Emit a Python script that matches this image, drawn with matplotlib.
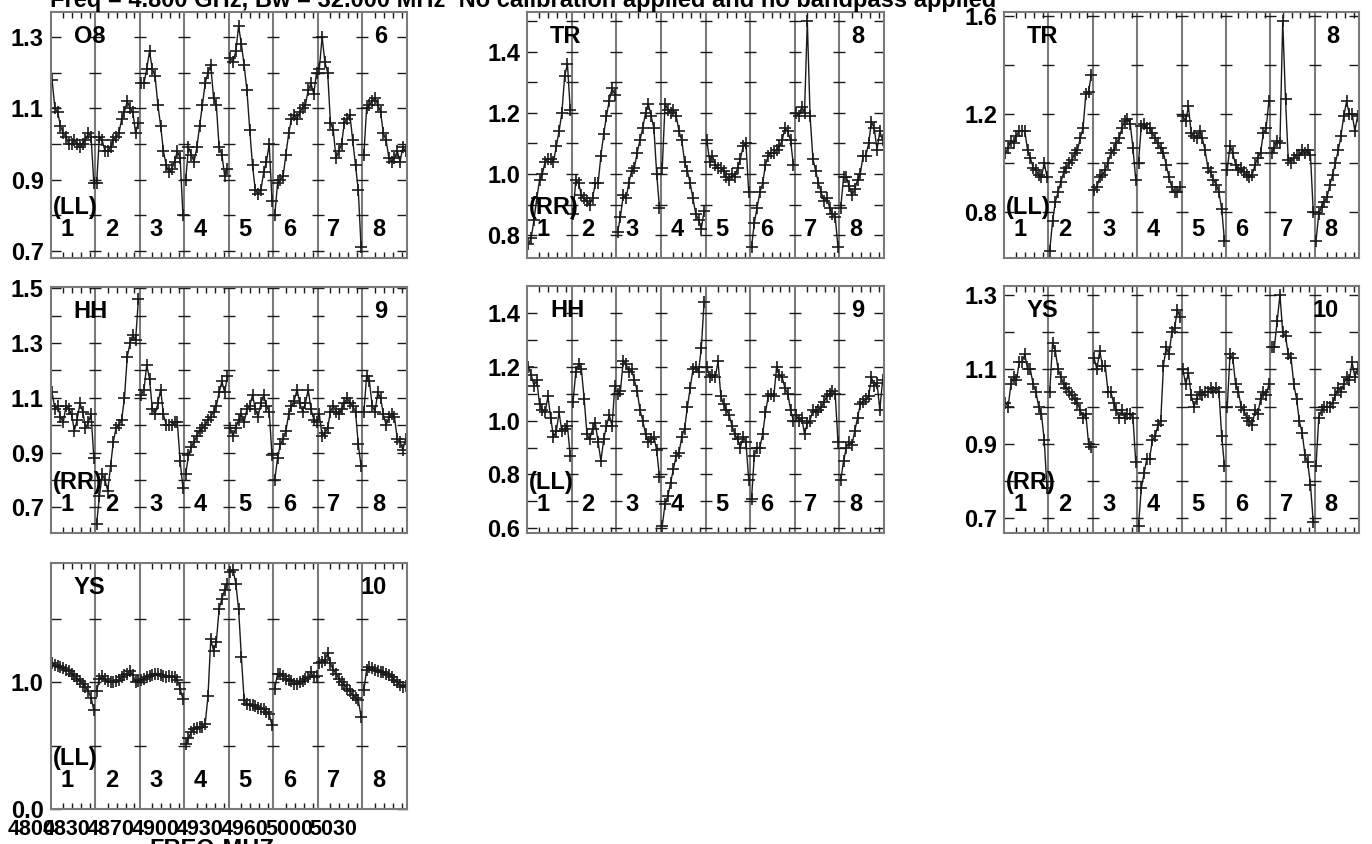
import matplotlib.pyplot as plt
from matplotlib.ticker import MultipleLocator, FixedLocator
import numpy as np

plt.rcParams['font.family'] = ['Liberation Sans', 'DejaVu Sans']
plt.rcParams['font.weight'] = 'bold'

W, H = 1372, 844

# amplitude per IF (8 IFs, 16 channels each)
o8_ll = [
    [1.18, 1.10, 1.09, 1.05, 1.03, 1.02, 1.00, 1.00, 1.01, 1.00, 0.99, 1.00, 1.01, 1.03, 1.02, 0.89],
    [0.89, 1.02, 1.01, 0.98, 0.98, 0.99, 1.01, 1.02, 1.03, 1.07, 1.09, 1.12, 1.10, 1.09, 1.03, 1.06],
    [1.17, 1.17, 1.21, 1.26, 1.21, 1.19, 1.11, 1.05, 0.98, 0.94, 0.92, 0.93, 0.95, 0.98, 0.96, 0.80],
    [0.90, 0.99, 0.97, 0.95, 0.99, 1.05, 1.11, 1.17, 1.20, 1.22, 1.13, 1.11, 0.99, 0.97, 0.91, 0.93],
    [1.24, 1.23, 1.26, 1.33, 1.28, 1.22, 1.15, 1.04, 0.94, 0.87, 0.86, 0.87, 0.92, 0.95, 1.00, 0.84],
    [0.80, 0.89, 0.90, 0.91, 0.97, 1.03, 1.07, 1.08, 1.07, 1.09, 1.10, 1.11, 1.15, 1.17, 1.14, 1.20],
    [1.21, 1.30, 1.23, 1.20, 1.06, 1.04, 0.96, 0.98, 1.00, 1.06, 1.07, 1.08, 1.01, 0.94, 0.87, 0.71],
    [0.97, 1.10, 1.11, 1.12, 1.13, 1.11, 1.09, 1.03, 1.01, 0.96, 0.95, 0.96, 0.98, 0.95, 0.99, 0.98],
]
tr_rr = [
    [0.77, 0.79, 0.85, 0.92, 0.98, 1.00, 1.04, 1.05, 1.05, 1.04, 1.09, 1.14, 1.20, 1.32, 1.36, 1.21],
    [0.87, 0.98, 0.97, 0.93, 0.92, 0.91, 0.90, 0.92, 0.97, 0.97, 1.06, 1.13, 1.19, 1.24, 1.28, 1.26],
    [0.81, 0.86, 0.93, 0.92, 0.97, 1.01, 1.02, 1.07, 1.11, 1.15, 1.20, 1.23, 1.19, 1.15, 1.00, 0.89],
    [1.02, 1.23, 1.21, 1.20, 1.21, 1.19, 1.14, 1.11, 1.04, 1.01, 0.97, 0.92, 0.87, 0.85, 0.82, 0.88],
    [1.11, 1.04, 1.06, 1.03, 1.02, 1.02, 1.01, 0.99, 0.98, 1.00, 0.99, 1.02, 1.05, 1.09, 1.10, 0.94],
    [0.76, 0.84, 0.89, 0.94, 0.97, 1.03, 1.06, 1.07, 1.07, 1.08, 1.09, 1.11, 1.15, 1.14, 1.11, 1.03],
    [1.20, 1.19, 1.22, 1.20, 1.50, 1.19, 1.05, 1.01, 0.97, 0.94, 0.91, 0.92, 0.89, 0.87, 0.86, 0.76],
    [0.89, 0.99, 0.99, 0.96, 0.93, 0.95, 0.98, 1.00, 1.06, 1.06, 1.10, 1.17, 1.15, 1.08, 1.14, 1.11],
]
tr_ll = [
    [1.04, 1.06, 1.09, 1.08, 1.11, 1.13, 1.13, 1.13, 1.05, 1.02, 0.98, 0.97, 0.95, 0.94, 1.00, 0.94],
    [0.64, 0.76, 0.84, 0.88, 0.92, 0.96, 0.98, 1.00, 1.01, 1.04, 1.05, 1.10, 1.14, 1.28, 1.29, 1.36],
    [0.89, 0.90, 0.94, 0.95, 0.97, 1.00, 1.04, 1.05, 1.08, 1.10, 1.14, 1.17, 1.18, 1.16, 1.06, 0.93],
    [1.00, 1.15, 1.16, 1.14, 1.14, 1.12, 1.10, 1.08, 1.06, 1.04, 0.99, 0.94, 0.90, 0.88, 0.88, 0.90],
    [1.19, 1.17, 1.23, 1.12, 1.11, 1.10, 1.13, 1.10, 1.05, 0.98, 0.96, 0.93, 0.91, 0.88, 0.81, 0.68],
    [0.97, 1.07, 1.04, 0.99, 0.97, 0.98, 0.96, 0.95, 0.94, 0.95, 0.99, 1.02, 1.04, 1.12, 1.14, 1.25],
    [1.04, 1.06, 1.09, 1.08, 1.58, 1.26, 1.01, 1.00, 1.02, 1.03, 1.03, 1.05, 1.04, 1.05, 1.03, 0.80],
    [0.68, 0.79, 0.82, 0.84, 0.86, 0.91, 0.95, 1.00, 1.05, 1.11, 1.19, 1.25, 1.20, 1.20, 1.13, 1.19],
]
hh_rr = [
    [1.12, 1.06, 1.07, 1.03, 1.01, 1.07, 1.06, 1.04, 0.98, 1.02, 1.08, 1.05, 0.99, 1.01, 1.04, 0.88],
    [0.64, 0.74, 0.82, 0.80, 0.76, 0.85, 0.94, 0.99, 1.00, 1.02, 1.10, 1.25, 1.30, 1.33, 1.31, 1.46],
    [1.11, 1.13, 1.22, 1.17, 1.06, 1.04, 1.08, 1.13, 1.04, 1.00, 1.00, 1.00, 1.01, 1.01, 0.87, 0.77],
    [0.82, 0.89, 0.92, 0.94, 0.96, 0.98, 0.99, 1.00, 1.02, 1.03, 1.05, 1.07, 1.12, 1.16, 1.12, 1.18],
    [0.99, 0.96, 0.99, 1.02, 1.04, 1.01, 1.06, 1.07, 1.11, 1.06, 1.03, 1.08, 1.11, 1.07, 1.05, 0.89],
    [0.80, 0.88, 0.93, 0.95, 0.98, 1.04, 1.07, 1.09, 1.13, 1.08, 1.05, 1.08, 1.13, 1.06, 1.02, 1.01],
    [1.04, 0.96, 0.97, 0.99, 1.05, 1.07, 1.05, 1.04, 1.06, 1.08, 1.10, 1.08, 1.07, 1.05, 0.93, 0.85],
    [1.05, 1.18, 1.16, 1.07, 1.05, 1.12, 1.10, 1.04, 1.00, 1.03, 1.04, 1.03, 0.95, 0.94, 0.91, 0.95],
]
hh_ll = [
    [1.20, 1.17, 1.13, 1.15, 1.06, 1.04, 1.03, 1.09, 1.01, 0.94, 0.96, 1.03, 0.96, 0.97, 0.98, 0.87],
    [1.07, 1.18, 1.21, 1.19, 1.08, 0.95, 0.93, 0.97, 0.99, 0.92, 0.85, 0.93, 0.98, 1.02, 0.98, 1.13],
    [1.10, 1.11, 1.22, 1.21, 1.18, 1.19, 1.15, 1.11, 1.04, 1.00, 0.95, 0.92, 0.93, 0.94, 0.89, 0.79],
    [0.61, 0.69, 0.72, 0.77, 0.82, 0.87, 0.88, 0.94, 0.97, 1.05, 1.12, 1.19, 1.20, 1.18, 1.27, 1.44],
    [1.20, 1.16, 1.17, 1.16, 1.22, 1.09, 1.06, 1.04, 1.02, 0.98, 0.95, 0.93, 0.90, 0.94, 0.92, 0.78],
    [0.71, 0.87, 0.90, 0.90, 0.95, 1.03, 1.09, 1.10, 1.09, 1.20, 1.17, 1.16, 1.12, 1.10, 1.04, 1.00],
    [1.02, 1.00, 1.01, 0.95, 0.99, 1.00, 1.04, 1.03, 1.04, 1.05, 1.07, 1.09, 1.10, 1.11, 1.10, 0.92],
    [0.78, 0.85, 0.90, 0.92, 0.91, 0.96, 1.01, 1.06, 1.07, 1.08, 1.09, 1.16, 1.13, 1.14, 1.04, 1.15],
]
ys_rr = [
    [1.01, 1.00, 1.06, 1.08, 1.07, 1.12, 1.12, 1.14, 1.10, 1.10, 1.06, 1.04, 1.00, 0.98, 0.91, 0.78],
    [1.04, 1.17, 1.15, 1.10, 1.08, 1.06, 1.05, 1.04, 1.03, 1.02, 1.01, 0.99, 0.97, 0.98, 0.90, 0.89],
    [1.13, 1.10, 1.15, 1.11, 1.11, 1.04, 1.04, 1.01, 0.99, 0.97, 0.99, 0.97, 0.98, 0.98, 0.97, 0.85],
    [0.68, 0.78, 0.82, 0.86, 0.86, 0.91, 0.92, 0.95, 0.96, 1.11, 1.16, 1.14, 1.20, 1.21, 1.26, 1.24],
    [1.10, 1.06, 1.09, 1.03, 1.00, 1.02, 1.04, 1.03, 1.04, 1.04, 1.05, 1.04, 1.05, 1.04, 0.92, 0.84],
    [1.00, 1.14, 1.13, 1.06, 1.04, 1.00, 0.99, 0.97, 0.96, 0.95, 0.99, 0.98, 1.02, 1.04, 1.03, 1.06],
    [1.16, 1.16, 1.23, 1.30, 1.20, 1.19, 1.14, 1.13, 1.06, 1.02, 0.96, 0.93, 0.87, 0.85, 0.79, 0.69],
    [0.84, 0.97, 0.99, 1.00, 1.00, 1.00, 1.01, 1.03, 1.05, 1.04, 1.06, 1.08, 1.07, 1.12, 1.08, 1.10],
]
ys_ll = [
    [1.15, 1.14, 1.13, 1.12, 1.11, 1.10, 1.09, 1.07, 1.05, 1.03, 1.01, 0.99, 0.96, 0.93, 0.88, 0.78],
    [0.93, 1.03, 1.05, 1.03, 1.01, 1.00, 1.00, 1.01, 1.02, 1.04, 1.06, 1.07, 1.09, 1.06, 1.00, 1.01],
    [1.02, 1.03, 1.04, 1.05, 1.06, 1.07, 1.07, 1.06, 1.05, 1.04, 1.05, 1.04, 1.04, 1.02, 0.95, 0.87],
    [0.51, 0.56, 0.61, 0.63, 0.64, 0.65, 0.65, 0.67, 0.89, 1.34, 1.25, 1.32, 1.58, 1.66, 1.73, 1.78],
    [1.87, 1.89, 1.78, 1.58, 1.20, 0.86, 0.83, 0.82, 0.82, 0.81, 0.80, 0.79, 0.79, 0.77, 0.75, 0.66],
    [0.95, 1.07, 1.07, 1.05, 1.03, 1.02, 1.01, 0.99, 0.99, 1.00, 1.01, 1.03, 1.04, 1.08, 1.04, 1.05],
    [1.15, 1.16, 1.18, 1.23, 1.15, 1.10, 1.07, 1.03, 1.00, 0.98, 0.95, 0.93, 0.90, 0.88, 0.86, 0.73],
    [0.94, 1.10, 1.12, 1.11, 1.10, 1.09, 1.08, 1.08, 1.07, 1.06, 1.04, 1.02, 1.00, 0.98, 0.96, 0.97],
]

panel_data = [o8_ll, tr_rr, tr_ll, hh_rr, hh_ll, ys_rr, ys_ll]
antennas = ['O8', 'TR', 'TR', 'HH', 'HH', 'YS', 'YS']
pols = ['(LL)', '(RR)', '(LL)', '(RR)', '(LL)', '(RR)', '(LL)']
plot_nums = ['6', '8', '8', '9', '9', '10', '10']
y_ranges = [(0.68, 1.37), (0.725, 1.53), (0.61, 1.616), (0.606, 1.505),
            (0.583, 1.499), (0.66, 1.324), (0.0, 1.943)]
y_steps = [0.1, 0.1, 0.2, 0.1, 0.1, 0.1, 0.5]
y_labels = [[0.7, 0.9, 1.1, 1.3], [0.8, 1.0, 1.2, 1.4], [0.8, 1.2, 1.6],
            [0.7, 0.9, 1.1, 1.3, 1.5], [0.6, 0.8, 1.0, 1.2, 1.4],
            [0.7, 0.9, 1.1, 1.3], [0.0, 1.0]]
freq_labels = ['4800', '4830', '4870', '4900', '4930', '4960', '5000', '5030']

# panel boxes in pixels (left, top, right, bottom)
boxes = [(50.7, 12, 407, 258), (527, 12, 884, 258), (1004, 12, 1359, 258),
         (50.7, 287, 407, 533), (527, 286, 884, 533), (1004, 286, 1359, 533),
         (50.7, 563, 407, 809)]

frame_col = '#7a7a7a'
ink = '#1a1a1a'
fs = 17

fig = plt.figure(figsize=(W / 100, H / 100), dpi=100)

for p, data in enumerate(panel_data):
    x0, y0, x1, y1 = boxes[p]
    ax = fig.add_axes([x0 / W, 1 - y1 / H, (x1 - x0) / W, (y1 - y0) / H])
    lo, hi = y_ranges[p]
    ax.set_xlim(0, 8)
    ax.set_ylim(lo, hi)

    for i, chans in enumerate(data):
        n = len(chans)
        x = i + (np.arange(n) + 0.5) / n
        ax.plot(x, chans, color=ink, lw=1.0, marker='+', ms=9, mew=1.2)

    yt = [v for v in MultipleLocator(y_steps[p]).tick_values(lo, hi) if lo <= v <= hi]
    for b in range(1, 8):
        ax.axvline(b, color=frame_col, lw=1.5, zorder=1)
        ax.plot([b] * len(yt), yt, ls='none', marker='_', ms=9, mew=1.0, color=ink)

    ax.yaxis.set_major_locator(FixedLocator(y_labels[p]))
    ax.yaxis.set_minor_locator(MultipleLocator(y_steps[p]))
    ax.yaxis.set_major_formatter(plt.FormatStrFormatter('%.1f'))
    ax.tick_params(axis='y', which='both', direction='in', left=True, right=True,
                   length=7, width=1.0, color=ink, labelsize=fs, pad=5)

    ax.set_xticks([])
    ax.set_xticks([i + f for i in range(8) for f in (0.28, 0.48, 0.68, 0.88)], minor=True)
    ax.tick_params(axis='x', which='minor', direction='in', top=True, bottom=True,
                   length=4, width=1.0, color=ink, labelbottom=False)

    for s in ax.spines.values():
        s.set_color(frame_col)
        s.set_linewidth(1.5)

    ax.text(23 / (x1 - x0), 0.90, antennas[p], transform=ax.transAxes,
            ha='left', va='center', fontsize=fs)
    ax.text(0.944, 0.90, plot_nums[p], transform=ax.transAxes,
            ha='right', va='center', fontsize=fs)
    ax.text(0.006, 0.205, pols[p], transform=ax.transAxes,
            ha='left', va='center', fontsize=fs)
    for i in range(8):
        ax.text(i + 0.36, 0.117, str(i + 1), transform=ax.get_xaxis_transform(),
                ha='center', va='center', fontsize=fs)

    if p == 6:
        for k, lab in enumerate(freq_labels):
            xc = k - 0.65 if k > 0 else -0.43
            ax.text(xc, -0.082, lab, transform=ax.get_xaxis_transform(),
                    ha='center', va='center', fontsize=15.5, clip_on=False)

fig.text(212 / W, 1 - 838 / H, 'FREQ-MHZ', ha='center', va='top', fontsize=fs)
fig.text(50 / W, 1 - 7 / H,
         'Freq = 4.800 GHz, Bw = 32.000 MHz  No calibration applied and no bandpass applied',
         ha='left', va='baseline', fontsize=fs)

fig.savefig('out.png', dpi=100)
